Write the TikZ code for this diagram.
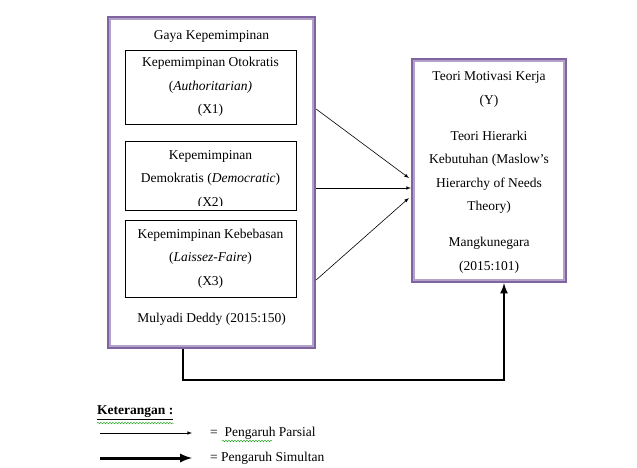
\documentclass[tikz,border=0pt]{standalone}
\usepackage{fontspec}
\setmainfont{Liberation Serif}
\usepackage{tikz}
\usetikzlibrary{calc,arrows,positioning}
\usetikzlibrary{decorations.pathmorphing}
\definecolor{ungu}{HTML}{8064A2}
\definecolor{unguMuda}{HTML}{B3A2C7}

\begin{document}
\begin{tikzpicture}[x=1pt,y=-1pt,
	every node/.style={font=\fontsize{13.5}{23.5}\selectfont, inner sep=0pt},
	bingkai/.style={draw=ungu, line width=3.2pt},
	garisDalam/.style={draw=unguMuda, line width=1.6pt},
	kotak/.style={draw=black, line width=0.6pt, minimum width=171pt},
	teks/.style={align=center},
	parsial/.style={->,>=latex, line width=0.6pt},
	simultan/.style={->,>=latex, line width=2.5pt},
	ejaan/.style={green!60!black, line width=0.4pt, decorate,
		decoration={snake, segment length=3pt, amplitude=0.8pt}}]
					
					\useasboundingbox (0,0) rectangle (637,468);
					
					% bingkai gaya kepemimpinan
					\node[bingkai, minimum width=206pt, minimum height=330pt] (gaya) at (211.5,182.5) {};
					\draw[garisDalam] ($(gaya.north west)+(3.3,3.3)$) rectangle ($(gaya.south east)+(-3.3,-3.3)$);
					
					% bingkai motivasi kerja
					\node[bingkai, minimum width=153pt, minimum height=222pt] (motivasi) at (489,170.5) {};
					\draw[garisDalam] ($(motivasi.north west)+(3.3,3.3)$) rectangle ($(motivasi.south east)+(-3.3,-3.3)$);
					
					\node[teks] (judul) at (211.5,36) {Gaya Kepemimpinan};
					
					\node[kotak, minimum height=74pt, teks] (otokratis) at (210.5,87)
						{Kepemimpinan Otokratis\\(\textit{Authoritarian)}\\(X1)};
					
					\node[kotak, minimum height=69pt] (demokratis) at (210.5,175.5) {};
					\begin{scope}
						\clip (125,141) rectangle (296,205);
						\node[teks] (teksDemo) at (210.5,179.5)
							{Kepemimpinan\\Demokratis (\textit{Democratic})\\(X2)};
					\end{scope}
					
					\node[kotak, minimum height=77pt, teks] (kebebasan) at (210.5,258.5)
						{Kepemimpinan Kebebasan\\(\textit{Laissez-Faire})\\(X3)};
					
					\node[teks] (mulyadi) at (211.5,319) {Mulyadi Deddy (2015:150)};
					
					\node[teks] (motiv) at (489,89.5) {Teori Motivasi Kerja\\(Y)};
					\node[teks] (maslow) at (489,172.5) {Teori Hierarki\\Kebutuhan (Maslow's\\Hierarchy of Needs\\Theory)};
					\node[teks] (mangku) at (489,255.5) {Mangkunegara\\(2015:101)};
					
					% pengaruh parsial
					\draw[parsial] ([yshift=73.5]gaya.east) -- ([xshift=-2,yshift=-7.5]motivasi.west);
					\draw[parsial] ([yshift=-5.5]gaya.east) -- ([yshift=-17.5]motivasi.west);
					\draw[parsial] ([yshift=-97.5]gaya.east) -- ([xshift=-2,yshift=-27.5]motivasi.west);
					
					% pengaruh simultan
					\draw[simultan] ([xshift=-28.5]gaya.south) |- (330,380) -| ([xshift=15]motivasi.south);
					
					% keterangan
					\node[anchor=west] (ket) at (97,413) {\underline{\textbf{Keterangan :}}};
					\draw[ejaan] ($(ket.south west)+(0,3)$) -- ($(ket.south east)+(0,3)$);
					
					\coordinate (p1) at (100,433);
					\coordinate (p2) at (192,433);
					\coordinate (s1) at (100,458);
					\coordinate (s2) at (192,458);
					\draw[parsial] (p1) -- (p2);
					\draw[simultan, line width=3pt] (s1) -- (s2);
					\node[anchor=west] (lpar) at (210,433) {=\ \ Pengaruh Parsial};
					\node[anchor=west] (lsim) at (210,458) {= Pengaruh Simultan};
					\draw[ejaan] (222,441) -- (272,441);
					
\end{tikzpicture}
\end{document}
